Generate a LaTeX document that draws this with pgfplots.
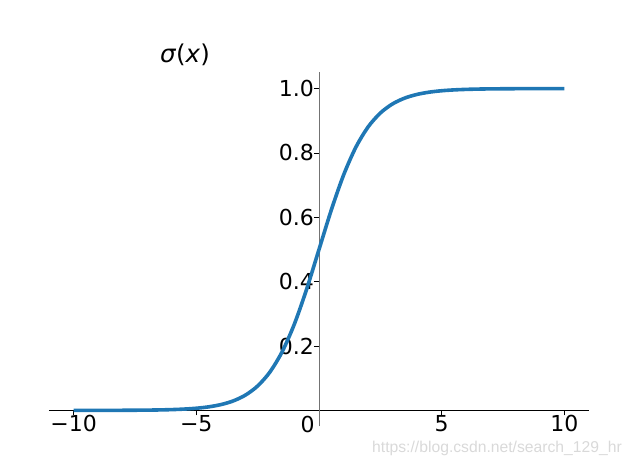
\documentclass[border=0pt]{standalone}
\usepackage{fontspec}
\setmainfont{DejaVu Sans}
\newfontfamily\wmfont{Liberation Sans}
\usepackage{pgfplots}
\pgfplotsset{compat=1.18}
\definecolor{mplblue}{HTML}{1F77B4}

\begin{document}
\begin{tikzpicture}[x=1pt,y=1pt]
\path[use as bounding box] (0,0) rectangle (633,466);
\begin{axis}[
    at={(49pt,39.5pt)}, anchor=south west,
    scale only axis, width=540pt, height=354pt,
    xmin=-11, xmax=11, ymin=-0.05, ymax=1.05,
    axis lines=middle,
    axis line style={-},
    x axis line style={black, line width=1pt},
    y axis line style={black!55, line width=1pt},
    xtick={-10,-5,5,10}, xticklabels={−10,−5,5,10},
    ytick={0.2,0.4,0.6,0.8,1.0}, yticklabels={0.2,0.4,0.6,0.8,1.0},
    tick style={black, line width=0.8pt},
    major tick length=5pt,
    tick align=outside,
    ticklabel style={font=\fontsize{22}{26}\selectfont, inner sep=0pt},
    xticklabel style={anchor=north},
    yticklabel style={anchor=east},
    axis on top=false,
]
\addplot[mplblue, line width=3.6pt, smooth] coordinates {
    (-10,0.0000454) (-9,0.0001234) (-8,0.000335) (-7,0.000911)
    (-6.5,0.001501) (-6,0.002473) (-5.5,0.004070) (-5,0.006693)
    (-4.5,0.010987) (-4,0.017986) (-3.5,0.029312) (-3,0.047426)
    (-2.5,0.075858) (-2,0.119203) (-1.5,0.182426) (-1,0.268941)
    (-0.5,0.377541) (0,0.5) (0.5,0.622459) (1,0.731059)
    (1.5,0.817574) (2,0.880797) (2.5,0.924142) (3,0.952574)
    (3.5,0.970688) (4,0.982014) (4.5,0.989013) (5,0.993307)
    (5.5,0.995930) (6,0.997527) (6.5,0.998499) (7,0.999089)
    (8,0.999665) (9,0.999877) (10,0.999955)
};
\end{axis}
\node[anchor=base, font=\fontsize{22}{26}\selectfont, inner sep=0pt] at (307.5,33) {0};
\node[anchor=base, font=\fontsize{24.5}{28}\selectfont, inner sep=0pt] at (185,403) {\textit{σ}(\textit{x})};
\node[anchor=base west, font=\wmfont\fontsize{15.7}{18}\selectfont, text=black!15, inner sep=0pt] at (372,13) {https://blog.csdn.net/search\_129\_hr};
\end{tikzpicture}
\end{document}
